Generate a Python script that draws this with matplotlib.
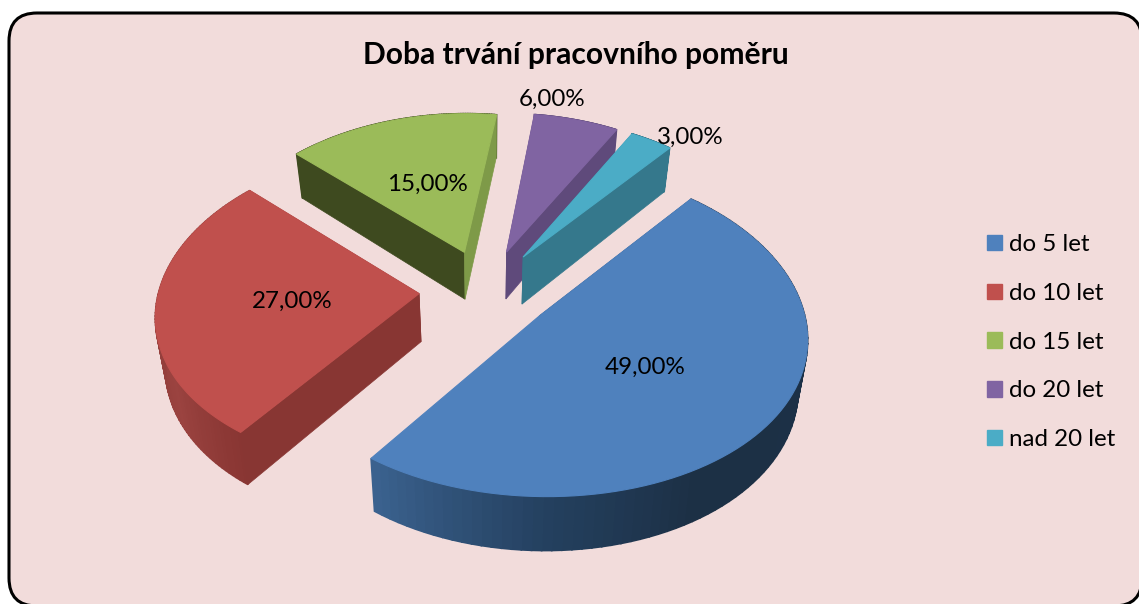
import numpy as np
import matplotlib
matplotlib.use('Agg')
import matplotlib.pyplot as plt
from matplotlib.patches import FancyBboxPatch, Patch
from matplotlib.colors import to_rgb

title = 'Doba trvání pracovního poměru'
categories = ['do 5 let', 'do 10 let', 'do 15 let', 'do 20 let', 'nad 20 let']
values = [49.0, 27.0, 15.0, 6.0, 3.0]

top_colors = ['#4f81bd', '#c0504d', '#9bbb59', '#8064a2', '#4bacc6']
face_colors = ['#24405f', '#883633', '#3e4a1f', '#5f4a7b', '#35788c']
right_colors = [None, None, '#7e9a48', None, None]
label_pos = [(645, 367), (292, 301), (427, 184), (552, 99), (690, 137)]

# pie geometry, in pixels
cx, cy = 486, 290
R = 260
explode = 67
k = 0.61
px_persp = 0.12
py_persp = 0.095
depth = 48
start = 50

plt.rcParams['font.family'] = ['Lato', 'DejaVu Sans']

fig = plt.figure(figsize=(11.39, 6.04), dpi=100)
ax = fig.add_axes([0, 0, 1, 1])
ax.set_xlim(0, 1139)
ax.set_ylim(604, 0)
ax.axis('off')

ax.add_patch(FancyBboxPatch((9, 13), 1133, 593, boxstyle='round,pad=0,rounding_size=28',
                            fc='#f2dcdb', ec='black', lw=2.2))


def project(u, v, bottom=False):
    sx = 1 / (1 + px_persp * v / R)
    sy = 1 / (1 + py_persp * v / R)
    x = sx * u
    y = k * sy * v
    if bottom:
        return cx + 0.97 * x, cy - y + depth * sy
    return cx + x, cy - y


def wall_color(i, ang):
    # shading of the round outer side
    if i == 0:
        stops = [(-126, '#3b628f'), (-90, '#24405f'), (-60, '#1c3045'), (50, '#1b2f47')]
    elif i == 1:
        stops = [(-224, '#8a3835'), (-190, '#8e3b38'), (-150, '#9b4340'), (-127, '#893633')]
    else:
        stops = [(-400, face_colors[i]), (400, face_colors[i])]
    xs = [a for a, c in stops]
    cols = np.array([to_rgb(c) for a, c in stops])
    return [np.interp(ang, xs, cols[:, j]) for j in range(3)]


# slice angles, clockwise from the start angle
ends = start - np.cumsum(values) * 3.6
starts = np.concatenate([[start], ends[:-1]])

# back slices first
for i in [2, 3, 4, 1, 0]:
    a1, a2 = starts[i], ends[i]
    mid = np.radians((a1 + a2) / 2)
    ou, ov = explode * np.cos(mid), explode * np.sin(mid)
    angs = np.linspace(a1, a2, 90)
    us = ou + R * np.cos(np.radians(angs))
    vs = ov + R * np.sin(np.radians(angs))

    # outer side
    for j in range(len(angs) - 1):
        t0 = project(us[j], vs[j])
        t1 = project(us[j + 1], vs[j + 1])
        b1 = project(us[j + 1], vs[j + 1], True)
        b0 = project(us[j], vs[j], True)
        col = wall_color(i, (angs[j] + angs[j + 1]) / 2)
        ax.fill([t0[0], t1[0], b1[0], b0[0]], [t0[1], t1[1], b1[1], b0[1]],
                color=col, lw=1.2)

    # cut faces
    for n, (eu, ev) in enumerate([(us[0], vs[0]), (us[-1], vs[-1])]):
        if i == 0 and n == 1:
            continue
        t0 = project(ou, ov)
        t1 = project(eu, ev)
        b1 = project(eu, ev, True)
        b0 = project(ou, ov, True)
        col = face_colors[i]
        if n == 1 and right_colors[i]:
            col = right_colors[i]
        ax.fill([t0[0], t1[0], b1[0], b0[0]], [t0[1], t1[1], b1[1], b0[1]],
                color=col, lw=0.5)

    # top
    px, py = project(np.append(us, ou), np.append(vs, ov))
    ax.fill(px, py, color=top_colors[i], lw=0.8)

for v, (x, y) in zip(values, label_pos):
    ax.text(x, y, f'{v:.2f}'.replace('.', ',') + '%', ha='center', va='center',
            fontsize=17.4, color='black')

ax.text(576, 55, title, ha='center', va='center', fontsize=21.6, fontweight='bold', color='black')

handles = [Patch(color=c, label=n) for c, n in zip(top_colors, categories)]
ax.legend(handles=handles, loc='upper left', bbox_to_anchor=(987 / 1139, 1 - 234 / 604),
          frameon=False, fontsize=17.4, handlelength=0.6, handleheight=0.6,
          handletextpad=0.29, labelspacing=1.15, borderpad=0, borderaxespad=0)

fig.savefig('out.png', dpi=100)
